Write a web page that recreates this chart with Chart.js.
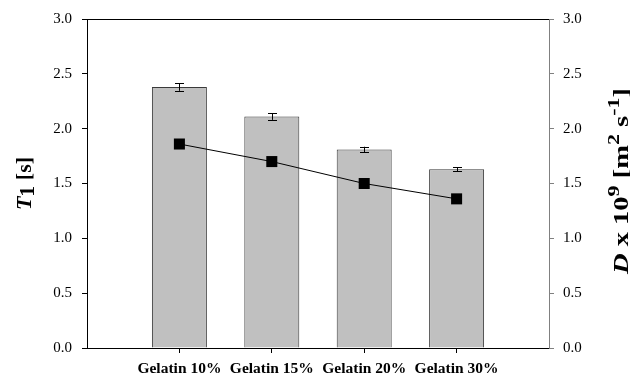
<!DOCTYPE html>
<html>
<head>
<meta charset="utf-8">
<script src="https://cdn.jsdelivr.net/npm/chart.js@4/dist/chart.umd.min.js"></script>
<style>
  html, body { margin: 0; padding: 0; background: #fff; }
  #wrap { width: 630px; height: 378px; position: relative; }
</style>
</head>
<body>
<div id="wrap"><canvas id="c" width="630" height="378"></canvas></div>
<script>
// Gelatin concentrations
const categories = ['Gelatin 10%', 'Gelatin 15%', 'Gelatin 20%', 'Gelatin 30%'];
// Relaxation time T1 [s] (bars) with standard deviation
const t1Values = [2.38, 2.11, 1.81, 1.63];
const t1Errors = [0.035, 0.03, 0.025, 0.02];
// Diffusion coefficient D x 10^9 [m^2 s^-1] (line, right axis)
const dValues = [1.86, 1.70, 1.50, 1.36];
// Axis ticks shared by both value axes
const yTicks = [0.0, 0.5, 1.0, 1.5, 2.0, 2.5, 3.0];

const SERIF = '"Liberation Serif", "Times New Roman", serif';

// categories are placed at x = 1..n on a 0..n+1 linear axis
const xPos = categories.map((_, i) => i + 1);
const barData = xPos.map((x, i) => ({ x: x, y: t1Values[i] }));
const lineData = xPos.map((x, i) => ({ x: x, y: dValues[i] }));

// draws a run of differently styled text pieces rotated -90deg, centred on cy;
// an optional length stretches the run along its reading direction
function drawRotatedRich(ctx, parts, cy, baseX, length) {
  let total = 0;
  parts.forEach(p => { ctx.font = p.font; p.w = ctx.measureText(p.text).width; total += p.w; });
  const k = length ? length / total : 1;
  ctx.save();
  ctx.translate(baseX, cy);
  ctx.rotate(-Math.PI / 2);
  ctx.scale(k, 1);
  ctx.fillStyle = '#000';
  ctx.textBaseline = 'alphabetic';
  ctx.textAlign = 'left';
  let x = -total / 2;
  parts.forEach(p => {
    ctx.font = p.font;
    ctx.fillText(p.text, x, p.dy || 0);
    x += p.w;
  });
  ctx.restore();
}

const decorations = {
  id: 'decorations',
  afterDatasetsDraw(chart) {
    const ctx = chart.ctx;
    const xs = chart.scales.x, ys = chart.scales.y;
    const area = chart.chartArea;
    // error bars on the T1 bars
    ctx.save();
    ctx.strokeStyle = '#000';
    ctx.lineWidth = 1;
    xPos.forEach((xv, i) => {
      const px = Math.round(xs.getPixelForValue(xv)) + 0.5;
      const hi = ys.getPixelForValue(t1Values[i] + t1Errors[i]);
      const lo = ys.getPixelForValue(t1Values[i] - t1Errors[i]);
      ctx.beginPath();
      ctx.moveTo(px, hi); ctx.lineTo(px, lo);
      ctx.moveTo(px - 4.5, Math.round(hi) + 0.5); ctx.lineTo(px + 4.5, Math.round(hi) + 0.5);
      ctx.moveTo(px - 4.5, Math.round(lo) + 0.5); ctx.lineTo(px + 4.5, Math.round(lo) + 0.5);
      ctx.stroke();
    });
    // top frame line
    ctx.beginPath();
    ctx.moveTo(area.left, Math.round(area.top) + 0.5);
    ctx.lineTo(area.right, Math.round(area.top) + 0.5);
    ctx.stroke();
    ctx.restore();
  },
  afterDraw(chart) {
    const ctx = chart.ctx;
    const area = chart.chartArea;
    const mid = (area.top + area.bottom) / 2;
    const big = 'bold 22px ' + SERIF;
    const bigIt = 'italic bold 22px ' + SERIF;
    drawRotatedRich(ctx, [
      { text: 'T', font: bigIt },
      { text: '1', font: big, dy: 3 },
      { text: ' [s]', font: big }
    ], mid, 31);
    const small = 'bold 17px ' + SERIF;
    drawRotatedRich(ctx, [
      { text: 'D', font: bigIt },
      { text: ' x 10', font: big },
      { text: '9', font: small, dy: -9 },
      { text: ' [m', font: big },
      { text: '2', font: small, dy: -9 },
      { text: ' s', font: big },
      { text: '-1', font: small, dy: -9 },
      { text: ']', font: big }
    ], 181, 628, 186);
  }
};

const valueTick = v => (yTicks.includes(+v.toFixed(1)) ? v.toFixed(1) : null);

new Chart(document.getElementById('c'), {
  data: {
    datasets: [
      {
        type: 'line',
        data: lineData,
        yAxisID: 'y1',
        borderColor: '#000',
        borderWidth: 1,
        pointStyle: 'rect',
        pointRadius: 7.8,
        pointBackgroundColor: '#000',
        pointBorderColor: '#000',
        pointBorderWidth: 0,
        tension: 0,
        order: 0
      },
      {
        type: 'bar',
        data: barData,
        yAxisID: 'y',
        backgroundColor: '#c0c0c0',
        borderColor: '#3a3a3a',
        borderWidth: 1,
        categoryPercentage: 1,
        barPercentage: 0.595,
        order: 1
      }
    ]
  },
  options: {
    responsive: false,
    animation: false,
    layout: { autoPadding: false, padding: { top: 19, left: 0, right: 0, bottom: 0 } },
    plugins: { legend: { display: false }, tooltip: { enabled: false } },
    scales: {
      x: {
        type: 'linear',
        min: 0,
        max: categories.length + 1,
        offset: false,
        grid: { offset: false, drawOnChartArea: false, drawTicks: true, tickLength: 5, color: '#000' },
        border: { display: true, color: '#000', width: 1 },
        ticks: {
          stepSize: 1,
          autoSkip: false,
          maxRotation: 0,
          padding: 7,
          color: '#000',
          font: { family: SERIF, size: 15.5, weight: 'bold' },
          callback: v => (v >= 1 && v <= categories.length ? categories[v - 1] : null)
        },
        afterFit: s => { s.height = 30; }
      },
      y: {
        type: 'linear',
        position: 'left',
        min: 0,
        max: 3,
        grid: { drawOnChartArea: false, drawTicks: true, tickLength: 5, color: '#000' },
        border: { display: true, color: '#000', width: 1 },
        ticks: { stepSize: 0.5, padding: 10, color: '#000', font: { family: SERIF, size: 15 }, callback: valueTick },
        afterFit: s => { s.width = 87; }
      },
      y1: {
        type: 'linear',
        position: 'right',
        min: 0,
        max: 3,
        grid: { drawOnChartArea: false, drawTicks: true, tickLength: 5, color: '#808080' },
        border: { display: true, color: '#808080', width: 1 },
        ticks: { stepSize: 0.5, padding: 9, color: '#000', font: { family: SERIF, size: 15 }, callback: valueTick },
        afterFit: s => { s.width = 81; }
      }
    }
  },
  plugins: [decorations]
});
</script>
</body>
</html>
